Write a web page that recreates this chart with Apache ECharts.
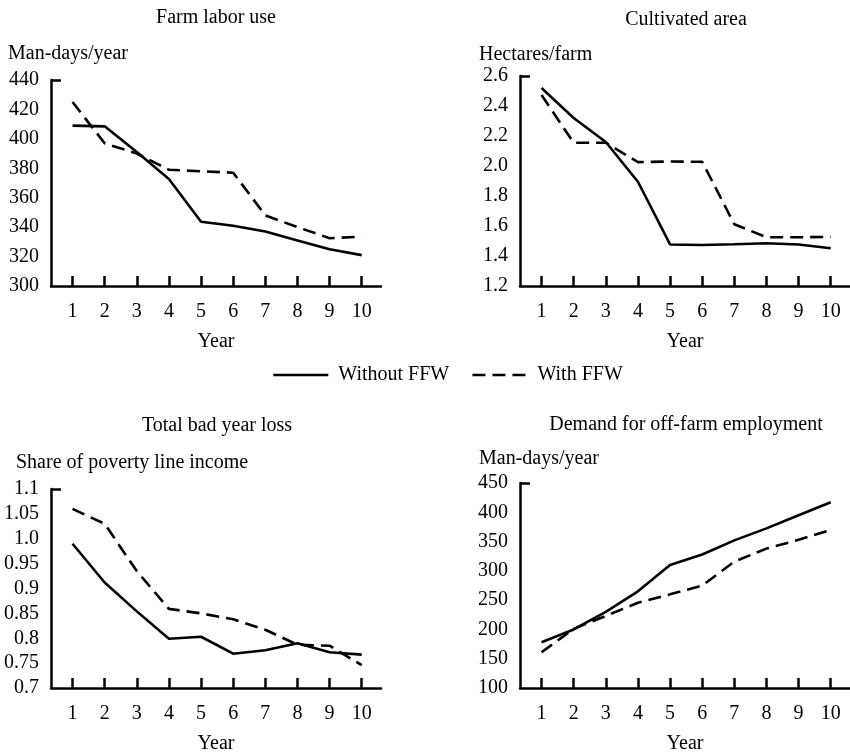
<!DOCTYPE html>
<html><head><meta charset="utf-8">
<script src="https://cdn.jsdelivr.net/npm/echarts@6/dist/echarts.min.js"></script>
<style>html,body{margin:0;padding:0;background:#fff}#c{width:850px;height:755px}</style>
</head><body><div id="c"></div>
<script>
const years = [1, 2, 3, 4, 5, 6, 7, 8, 9, 10];
const laborWithout = [409, 408.5, 391, 372.7, 343.7, 341, 337, 331, 325, 321];
const laborWith = [425, 397, 390, 379, 378, 377, 348, 340, 332.5, 333.5];
const areaWithout = [2.52, 2.32, 2.16, 1.895, 1.477, 1.473, 1.478, 1.485, 1.477, 1.452];
const areaWith = [2.473, 2.155, 2.155, 2.026, 2.03, 2.028, 1.612, 1.525, 1.525, 1.527];
const lossWithout = [0.99, 0.912, 0.854, 0.799, 0.803, 0.769, 0.776, 0.790, 0.772, 0.767];
const lossWith = [1.06, 1.03, 0.935, 0.859, 0.85, 0.838, 0.817, 0.787, 0.785, 0.746];
const offWithout = [178, 200, 230, 265, 310, 328, 352, 372.5, 395, 417];
const offWith = [161, 201, 223, 245.5, 260, 274.7, 315.7, 338, 353, 370];
const lossTickLabels = ['0.7', '0.75', '0.8', '0.85', '0.9', '0.95', '1.0', '1.05', '1.1'];

const titles = ['Farm labor use', 'Cultivated area', 'Total bad year loss', 'Demand for off-farm employment'];
const yNames = ['Man-days/year', 'Hectares/farm', 'Share of poverty line income', 'Man-days/year'];
const seriesNames = ['Without FFW', 'With FFW'];

const FONT = 'Liberation Serif';
const FS = 20;
const LW = 2.6;
const DASH = [13, 7];
const grids = [
  {left: 51, top: 80, width: 330, height: 206},
  {left: 520, top: 76, width: 330, height: 210},
  {left: 51, top: 489, width: 330, height: 201},
  {left: 520, top: 483, width: 330, height: 207}
];
const yRanges = [
  {min: 300, max: 440, interval: 20, fmt: v => String(v)},
  {min: 1.2, max: 2.6, interval: 0.2, fmt: v => v.toFixed(1)},
  {min: 0.7, max: 1.1, interval: 0.05, fmt: (v, i) => lossTickLabels[i]},
  {min: 100, max: 450, interval: 50, fmt: v => String(v)}
];
const titlePos = [
  {x: 216, y: 16}, {x: 686, y: 18}, {x: 217, y: 424}, {x: 686, y: 423}
];
const yNamePos = [
  {x: 8, y: 52}, {x: 479, y: 53}, {x: 16, y: 461}, {x: 479, y: 457}
];
const panels = [[laborWithout, laborWith], [areaWithout, areaWith], [lossWithout, lossWith], [offWithout, offWith]];

const txt = {fontFamily: FONT, fontSize: FS, color: '#000', fontWeight: 'normal'};
const title = [];
titlePos.forEach((p, i) => title.push({text: titles[i], left: p.x, top: p.y - 8, textAlign: 'center', padding: 0, textStyle: txt}));
yNamePos.forEach((p, i) => title.push({text: yNames[i], left: p.x, top: p.y - 8, padding: 0, textStyle: txt}));

const xAxis = grids.map((g, i) => ({
  type: 'value', gridIndex: i, min: 0.33, max: 10.6,
  name: 'Year', nameLocation: 'middle', nameGap: 46, nameTextStyle: txt,
  splitLine: {show: false},
  axisLine: {lineStyle: {color: '#000', width: 2.5}},
  axisTick: {show: true, inside: true, length: 10, lineStyle: {color: '#000', width: 2.5}, customValues: years},
  axisLabel: {customValues: years, margin: 16, fontFamily: FONT, fontSize: FS, color: '#000'}
}));
const yAxis = yRanges.map((r, i) => ({
  type: 'value', gridIndex: i, min: r.min, max: r.max, interval: r.interval,
  splitLine: {show: false},
  axisLine: {show: true, lineStyle: {color: '#000', width: 2.5}},
  axisTick: {show: true, inside: true, length: 10, lineStyle: {color: '#000', width: 2.5}, customValues: [r.max]},
  axisLabel: {margin: 12, fontFamily: FONT, fontSize: FS, color: '#000', formatter: r.fmt}
}));
const series = [];
panels.forEach((p, i) => {
  p.forEach((arr, k) => {
    series.push({
      type: 'line', name: seriesNames[k], xAxisIndex: i, yAxisIndex: i,
      data: years.map((x, j) => [x, arr[j]]),
      symbol: 'none', animation: false,
      lineStyle: {color: '#000', width: LW, type: k === 0 ? 'solid' : DASH},
      itemStyle: {color: '#000'}
    });
  });
});

const chart = echarts.init(document.getElementById('c'), null, {renderer: 'canvas'});
chart.setOption({
  animation: false,
  backgroundColor: '#fff',
  title: title,
  legend: {
    left: 272, top: 365, padding: 0, itemWidth: 55, itemHeight: 18, itemGap: 22,
    data: seriesNames,
    itemStyle: {opacity: 0},
    lineStyle: {width: LW},
    textStyle: Object.assign({}, txt, {padding: [0, 0, 0, 5]})
  },
  grid: grids,
  xAxis: xAxis,
  yAxis: yAxis,
  series: series
});
</script></body></html>
